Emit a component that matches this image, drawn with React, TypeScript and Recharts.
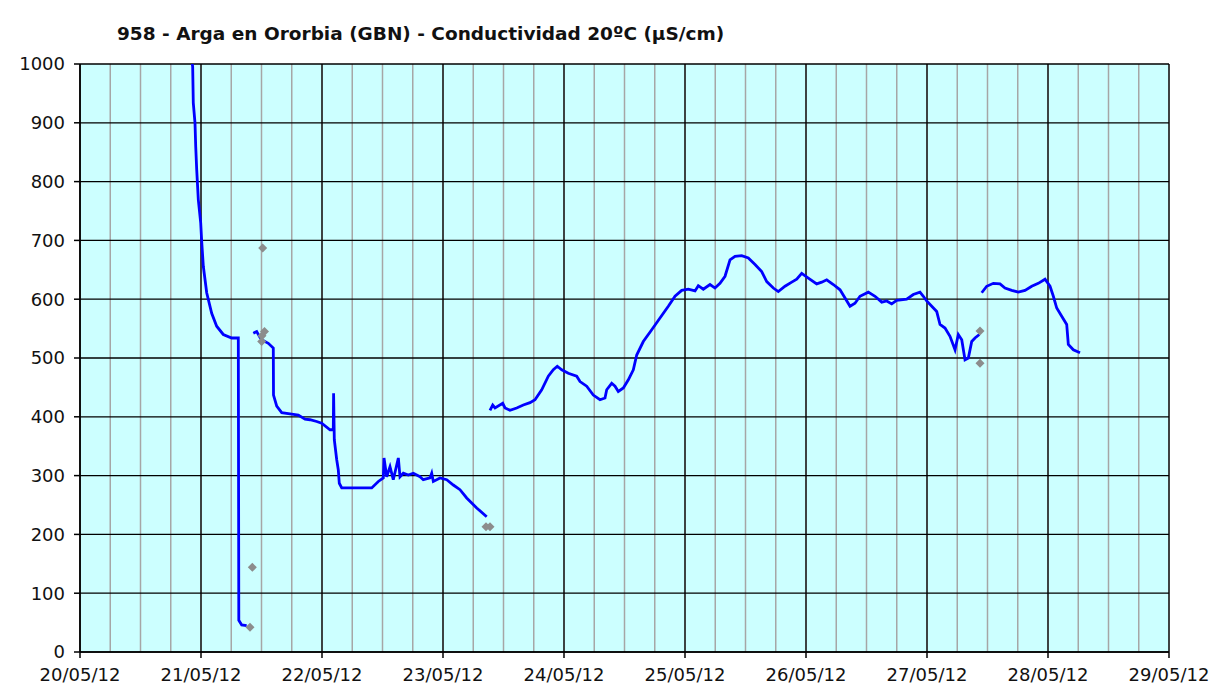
import React from 'react';
import { ComposedChart, Line, Scatter, XAxis, YAxis, CartesianGrid } from 'recharts';

// time in hours since 20/05/12 00:00, v in µS/cm
const seg1 = [
  { t: 22.1, v: 1012 }, { t: 22.35, v: 995 }, { t: 22.47, v: 934 }, { t: 22.81, v: 900 },
  { t: 22.95, v: 860 }, { t: 23.15, v: 820 }, { t: 23.47, v: 769 }, { t: 23.94, v: 730 },
  { t: 24.14, v: 698 }, { t: 24.46, v: 656 }, { t: 25.13, v: 611 }, { t: 26.12, v: 576 },
  { t: 27.11, v: 554 }, { t: 28.42, v: 540 }, { t: 30.09, v: 534 }, { t: 31.4, v: 534 },
  { t: 31.5, v: 54 }, { t: 32.07, v: 46 }, { t: 33.06, v: 45 },
];

const seg2 = [
  { t: 34.37, v: 542 }, { t: 35.05, v: 545 }, { t: 35.7, v: 535 }, { t: 36.3, v: 530 },
  { t: 37.35, v: 525 }, { t: 38.34, v: 517 }, { t: 38.38, v: 437 }, { t: 39.02, v: 418 },
  { t: 40.01, v: 407 }, { t: 41.65, v: 405 }, { t: 43.3, v: 403 }, { t: 44.63, v: 396 },
  { t: 45.62, v: 395 }, { t: 46.95, v: 392 }, { t: 47.94, v: 389 }, { t: 49.59, v: 378 },
  { t: 50.24, v: 378 }, { t: 50.3, v: 440 }, { t: 50.44, v: 361 }, { t: 50.92, v: 327 },
  { t: 51.23, v: 310 }, { t: 51.43, v: 287 }, { t: 51.91, v: 279 }, { t: 57.86, v: 279 },
  { t: 59.17, v: 290 }, { t: 60.16, v: 296 }, { t: 60.3, v: 330 }, { t: 60.83, v: 298 },
  { t: 61.49, v: 315 }, { t: 62.14, v: 293 }, { t: 63.14, v: 330 }, { t: 63.47, v: 298 },
  { t: 64.13, v: 304 }, { t: 65.12, v: 301 }, { t: 66.11, v: 304 }, { t: 67.44, v: 298 },
  { t: 68.09, v: 293 }, { t: 69.42, v: 296 }, { t: 69.76, v: 304 }, { t: 70.08, v: 290 },
  { t: 71.41, v: 296 }, { t: 72.74, v: 293 }, { t: 74.05, v: 284 }, { t: 75.37, v: 276 },
  { t: 76.7, v: 262 }, { t: 78.69, v: 245 }, { t: 80.67, v: 230 },
];

const seg3 = [
  { t: 81.32, v: 411 }, { t: 81.86, v: 420 }, { t: 82.32, v: 415 }, { t: 83.84, v: 423 },
  { t: 84.3, v: 415 }, { t: 85.29, v: 411 }, { t: 86.62, v: 415 }, { t: 87.93, v: 420 },
  { t: 89.26, v: 424 }, { t: 90.25, v: 429 }, { t: 91.58, v: 446 }, { t: 92.89, v: 469 },
  { t: 93.88, v: 480 }, { t: 94.67, v: 486 }, { t: 95.55, v: 480 }, { t: 96.85, v: 474 },
  { t: 98.52, v: 469 }, { t: 99.18, v: 460 }, { t: 100.5, v: 452 }, { t: 101.81, v: 437 },
  { t: 103.14, v: 429 }, { t: 104.13, v: 432 }, { t: 104.47, v: 446 }, { t: 105.46, v: 457 },
  { t: 106.12, v: 452 }, { t: 106.77, v: 443 }, { t: 107.77, v: 449 }, { t: 108.76, v: 463 },
  { t: 109.75, v: 480 }, { t: 110.42, v: 505 }, { t: 111.73, v: 528 }, { t: 113.4, v: 548 },
  { t: 115.04, v: 568 }, { t: 116.69, v: 588 }, { t: 118.02, v: 605 }, { t: 119.35, v: 615 },
  { t: 120.66, v: 617 }, { t: 121.99, v: 614 }, { t: 122.64, v: 623 }, { t: 123.63, v: 617 },
  { t: 124.96, v: 625 }, { t: 125.95, v: 619 }, { t: 126.94, v: 627 }, { t: 127.94, v: 639 },
  { t: 128.93, v: 667 }, { t: 129.92, v: 673 }, { t: 131.25, v: 674 }, { t: 132.56, v: 670 },
  { t: 133.89, v: 659 }, { t: 135.21, v: 647 }, { t: 136.21, v: 630 }, { t: 137.52, v: 619 },
  { t: 138.51, v: 613 }, { t: 139.84, v: 622 }, { t: 141.17, v: 629 }, { t: 142.16, v: 634 },
  { t: 143.15, v: 644 }, { t: 144.46, v: 636 }, { t: 146.12, v: 626 }, { t: 147.12, v: 629 },
  { t: 148.11, v: 633 }, { t: 149.42, v: 625 }, { t: 150.75, v: 616 }, { t: 151.74, v: 602 },
  { t: 152.73, v: 588 }, { t: 153.72, v: 593 }, { t: 154.71, v: 605 }, { t: 156.36, v: 612 },
  { t: 157.69, v: 605 }, { t: 159.02, v: 595 }, { t: 160.01, v: 597 }, { t: 161.0, v: 592 },
  { t: 161.99, v: 598 }, { t: 163.98, v: 600 }, { t: 165.28, v: 608 }, { t: 166.61, v: 612 },
  { t: 167.27, v: 605 }, { t: 167.94, v: 597 }, { t: 168.94, v: 588 }, { t: 169.93, v: 579 },
  { t: 170.58, v: 557 }, { t: 171.57, v: 551 }, { t: 172.56, v: 537 }, { t: 173.56, v: 514 },
  { t: 174.21, v: 540 }, { t: 174.89, v: 531 }, { t: 175.54, v: 497 }, { t: 176.2, v: 500 },
  { t: 176.87, v: 528 }, { t: 177.52, v: 534 }, { t: 178.38, v: 540 },
];

const seg4 = [
  { t: 178.85, v: 611 }, { t: 179.84, v: 622 }, { t: 181.16, v: 627 }, { t: 182.48, v: 626 },
  { t: 183.47, v: 619 }, { t: 184.8, v: 615 }, { t: 186.11, v: 612 }, { t: 187.44, v: 615 },
  { t: 188.77, v: 622 }, { t: 190.08, v: 627 }, { t: 191.41, v: 634 }, { t: 192.4, v: 622 },
  { t: 193.06, v: 605 }, { t: 193.73, v: 585 }, { t: 194.72, v: 571 }, { t: 195.71, v: 557 },
  { t: 196.03, v: 523 }, { t: 197.02, v: 514 }, { t: 198.35, v: 509 },
];

const flagged = [
  { t: 33.72, v: 42 }, { t: 34.18, v: 144 }, { t: 36.24, v: 687 }, { t: 36.6, v: 545 },
  { t: 36.04, v: 528 }, { t: 36.1, v: 538 }, { t: 80.53, v: 213 }, { t: 81.32, v: 213 },
  { t: 178.51, v: 546 }, { t: 178.51, v: 491 },
];

const dayLabels = ['20/05/12', '21/05/12', '22/05/12', '23/05/12', '24/05/12', '25/05/12', '26/05/12', '27/05/12', '28/05/12', '29/05/12'];
const dayTicks = dayLabels.map((_, i) => i * 24);
const sixHourLines = Array.from({ length: 37 }, (_, i) => i * 6);
const yTicks = [0, 100, 200, 300, 400, 500, 600, 700, 800, 900, 1000];

const TITLE = '958 - Arga en Ororbia (GBN) - Conductividad 20ºC (µS/cm)';
const FONT = '"DejaVu Sans", Verdana, sans-serif';

const Diamond = (props: any) => {
  const { cx, cy } = props;
  if (cx == null || cy == null) return null;
  const r = 4.5;
  return (
    <polygon
      points={`${cx},${cy - r} ${cx + r},${cy} ${cx},${cy + r} ${cx - r},${cy}`}
      fill="#8c8c8c"
      stroke="none"
    />
  );
};

export default function App() {
  return (
    <div style={{ position: 'absolute', left: 0, top: 0, width: 1217, height: 688, background: '#fff', fontFamily: FONT }}>
      <div style={{ position: 'absolute', left: 117, top: 23, fontSize: 18.5, fontWeight: 'bold', color: '#111', whiteSpace: 'nowrap', lineHeight: 'normal' }}>
        {TITLE}
      </div>
      <ComposedChart width={1217} height={688} margin={{ top: 64, right: 48, bottom: 0, left: 0 }}>
        <CartesianGrid fill="#ccffff" stroke="#a6a6a6" strokeWidth={1.5} horizontal={false} verticalValues={sixHourLines} />
        <CartesianGrid fill="none" stroke="#000" strokeWidth={1.3} horizontalValues={yTicks} verticalValues={dayTicks} />
        <XAxis
          dataKey="t"
          type="number"
          domain={[0, 216]}
          ticks={dayTicks}
          tickFormatter={(v: number) => dayLabels[Math.round(v / 24)]}
          allowDataOverflow
          height={36}
          tickSize={6}
          tickMargin={10}
          stroke="#000"
          strokeWidth={1.5}
          tick={{ fill: '#111', fontSize: 18, fontFamily: FONT }}
          interval={0}
        />
        <YAxis
          dataKey="v"
          type="number"
          domain={[0, 1000]}
          ticks={yTicks}
          allowDataOverflow
          width={80}
          tickSize={6}
          tickMargin={9}
          stroke="#000"
          strokeWidth={1.5}
          tick={{ fill: '#111', fontSize: 18, fontFamily: FONT }}
          interval={0}
        />
        <Line data={seg1} dataKey="v" stroke="#0000ff" strokeWidth={2.8} dot={false} isAnimationActive={false} />
        <Line data={seg2} dataKey="v" stroke="#0000ff" strokeWidth={2.8} dot={false} isAnimationActive={false} />
        <Line data={seg3} dataKey="v" stroke="#0000ff" strokeWidth={2.8} dot={false} isAnimationActive={false} />
        <Line data={seg4} dataKey="v" stroke="#0000ff" strokeWidth={2.8} dot={false} isAnimationActive={false} />
        <Scatter data={flagged} dataKey="v" shape={Diamond} isAnimationActive={false} />
      </ComposedChart>
    </div>
  );
}
